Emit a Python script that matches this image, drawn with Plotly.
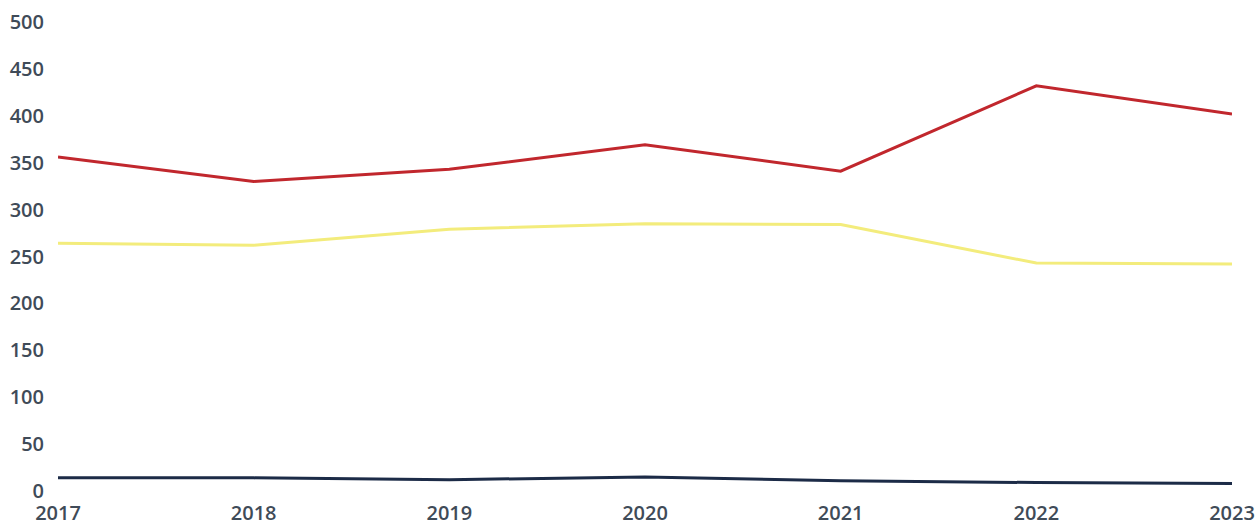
import plotly.graph_objects as go

years = ["2017", "2018", "2019", "2020", "2021", "2022", "2023"]
red_values = [356, 330, 343, 369, 341, 432, 402]
yellow_values = [264, 262, 279, 285, 284, 243, 242]
navy_values = [14, 14, 12, 15, 11, 9, 8]
y_ticks = [0, 50, 100, 150, 200, 250, 300, 350, 400, 450, 500]

fig = go.Figure()
fig.add_trace(go.Scatter(x=years, y=yellow_values, mode="lines",
                         line=dict(color="#f3ec7c", width=3), showlegend=False))
fig.add_trace(go.Scatter(x=years, y=red_values, mode="lines",
                         line=dict(color="#c1272d", width=3), showlegend=False))
fig.add_trace(go.Scatter(x=years, y=navy_values, mode="lines",
                         line=dict(color="#1c2b47", width=3), showlegend=False))

font = dict(family="Open Sans", size=20, color="#3f4b58", weight=600)
fig.update_layout(
    width=1255, height=527,
    margin=dict(l=58, r=23, t=22, b=36, autoexpand=False),
    paper_bgcolor="white", plot_bgcolor="white",
    font=font,
    xaxis=dict(type="category", range=[0, 6], showgrid=False, zeroline=False,
               showline=False, ticks="", tickfont=font, ticklabelstandoff=8,
               automargin=False),
    yaxis=dict(range=[0, 500], tickvals=y_ticks, showgrid=False, zeroline=False,
               showline=False, ticks="", tickfont=font, ticklabelstandoff=13,
               automargin=False),
)
fig.write_html(
    "out.html",
    config={"displayModeBar": False},
    post_script="document.body.style.margin='0';document.body.style.overflow='hidden';",
)
